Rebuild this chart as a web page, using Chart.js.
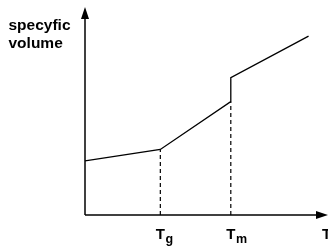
<!DOCTYPE html>
<html>
<head>
<meta charset="utf-8">
<script src="https://cdn.jsdelivr.net/npm/chart.js@4"></script>
<style>
  html, body { margin: 0; padding: 0; background: #fff; }
  #wrap { width: 328px; height: 248px; position: relative; }
</style>
</head>
<body>
<div id="wrap"><canvas id="c" width="328" height="248"></canvas></div>
<script>
// curve: temperature vs specific volume (arbitrary units 0..100)
const temps   = [0, 31, 60, 60, 92];
const volumes = [26, 31.5, 54.5, 66, 86];
// transition temperatures with their tick labels
const markTemps  = [31, 60];
const markVols   = [31.5, 54.5];
const markNames  = ['T', 'T'];
const markSubs   = ['g', 'm'];
const axisXLabel = 'T';
const axisYLabel = ['specyfic', 'volume'];

let datasets = [{
    data: temps.map((t, i) => ({ x: t, y: volumes[i] })),
    borderColor: '#000',
    borderWidth: 1.3,
    pointRadius: 0,
    showLine: true,
    fill: false
}];
for (let i = 0; i < markTemps.length; i++) {
    datasets.push({
        data: [{ x: markTemps[i], y: 0 }, { x: markTemps[i], y: markVols[i] }],
        borderColor: '#000',
        borderWidth: 1.2,
        borderDash: [4, 3],
        pointRadius: 0,
        showLine: true,
        fill: false
    });
}

const FONT = '"Liberation Sans", Arial, sans-serif';

const axesPlugin = {
    id: 'axesPlugin',
    afterDatasetsDraw(chart) {
        const ctx = chart.ctx;
        const a = chart.chartArea;
        const xs = chart.scales.x;
        ctx.save();
        ctx.strokeStyle = '#000';
        ctx.fillStyle = '#000';
        ctx.lineWidth = 1.5;
        // y axis
        ctx.beginPath();
        ctx.moveTo(a.left, a.bottom);
        ctx.lineTo(a.left, a.top + 8);
        ctx.stroke();
        ctx.beginPath();
        ctx.moveTo(a.left, a.top);
        ctx.lineTo(a.left - 4, a.top + 12);
        ctx.lineTo(a.left + 4, a.top + 12);
        ctx.closePath();
        ctx.fill();
        // x axis
        ctx.beginPath();
        ctx.moveTo(a.left, a.bottom);
        ctx.lineTo(a.right - 8, a.bottom);
        ctx.stroke();
        ctx.beginPath();
        ctx.moveTo(a.right, a.bottom);
        ctx.lineTo(a.right - 12, a.bottom - 4);
        ctx.lineTo(a.right - 12, a.bottom + 4);
        ctx.closePath();
        ctx.fill();

        // labels
        ctx.textBaseline = 'alphabetic';
        ctx.textAlign = 'left';
        for (let i = 0; i < markTemps.length; i++) {
            let px = xs.getPixelForValue(markTemps[i]) - 4.5;
            ctx.font = 'bold 15px ' + FONT;
            ctx.fillText(markNames[i], px, 238.5);
            let w = ctx.measureText(markNames[i]).width;
            ctx.font = 'bold 12.5px ' + FONT;
            ctx.fillText(markSubs[i], px + w + 0.5, 242.5);
        }
        ctx.font = 'bold 15px ' + FONT;
        ctx.fillText(axisXLabel, 322, 238.5);
        ctx.font = 'bold 15.5px ' + FONT;
        ctx.fillText(axisYLabel[0], 8.5, 30);
        ctx.fillText(axisYLabel[1], 8.5, 47.5);
        ctx.restore();
    }
};

new Chart('c', {
    type: 'scatter',
    data: { datasets: datasets },
    options: {
        responsive: false,
        animation: false,
        layout: { padding: { left: 85, right: 0, top: 7, bottom: 33 } },
        plugins: { legend: { display: false }, tooltip: { enabled: false } },
        scales: {
            x: { type: 'linear', min: 0, max: 100, display: false },
            y: { type: 'linear', min: 0, max: 100, display: false }
        }
    },
    plugins: [axesPlugin]
});
</script>
</body>
</html>
